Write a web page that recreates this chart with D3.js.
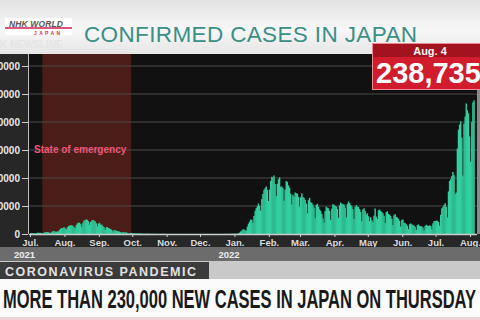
<!DOCTYPE html>
<html>
<head>
<meta charset="utf-8">
<script src="https://cdn.jsdelivr.net/npm/d3@7"></script>
<style>
  body { margin: 0; background: #111; overflow: hidden; }
  svg { display: block; font-family: "Liberation Sans", Arial, sans-serif; }
</style>
</head>
<body>
<script>
// daily new cases in Japan, in thousands, one array per month
var jul21 = [1.8,1.8,1.8,1.3,0.9,1.6,2.2,2.2,2.1,2.1,1.5,1.0,2.4,3.2,3.4,3.4,3.1,2.3,1.4,3.8,5.0,5.4,4.2,4.0,4.7,4.7,7.6,9.6,10.7,10.7,12.3];
var aug21 = [10.2,8.4,12.0,14.2,15.3,15.3,15.7,14.5,12.1,10.3,15.8,18.9,20.4,20.1,17.5,12.3,19.9,23.9,25.1,25.9,25.5,22.8,16.8,21.6,24.3,24.9,24.1,22.7,19.3,13.6,18.7];
var sep21 = [20.0,16.8,16.7,14.2,12.0,7.6,11.9,12.4,10.4,9.8,8.9,7.2,4.2,6.8,6.8,5.7,5.1,4.9,4.2,3.2,2.2,3.6,2.9,3.0,2.7,2.1,1.1,1.1,2.0,1.9];
var oct21 = [1.4,1.4,1.0,0.6,1.1,1.1,0.9,0.8,0.8,0.6,0.4,0.6,0.7,0.6,0.5,0.5,0.4,0.2,0.4,0.4,0.4,0.3,0.3,0.3,0.15,0.3,0.3,0.3,0.27,0.25,0.2];
var nov21 = [0.09,0.09,0.16,0.13,0.2,0.17,0.16,0.11,0.19,0.2,0.2,0.19,0.17,0.13,0.08,0.17,0.17,0.15,0.13,0.13,0.12,0.05,0.08,0.11,0.11,0.1,0.13,0.11,0.07,0.1];
var dec21 = [0.14,0.13,0.1,0.16,0.13,0.09,0.12,0.14,0.17,0.13,0.14,0.11,0.07,0.17,0.18,0.16,0.18,0.19,0.17,0.12,0.26,0.23,0.28,0.31,0.28,0.26,0.2,0.38,0.5,0.5,0.5];
var jan22 = [0.5,0.5,0.8,1.1,2.6,4.5,6.2,8.5,8.2,6.4,6.4,13.2,18.7,22.0,25.7,25.6,20.0,32.2,41.5,46.2,49.8,54.6,50.5,41.8,62.6,71.6,78.9,81.8,84.9,78.6,58.9];
var feb22 = [79.4,94.9,102.3,100.9,104.5,89.2,67.5,89.9,97.8,101.3,84.2,84.8,81.9,59.5,79.2,94.8,93.0,86.7,82.6,71.9,52.8,69.8,66.3,74.2,73.0,71.9,66.5,49.0];
var mar22 = [65.4,72.7,66.3,64.8,61.1,54.3,36.9,60.4,64.6,56.6,55.5,52.2,47.4,28.2,52.1,54.0,48.8,44.1,41.2,36.1,28.0,20.3,40.9,48.7,47.0,46.0,41.2,25.4,45.4,53.4,52.2];
var apr22 = [50.2,49.0,44.6,28.8,51.1,55.9,54.2,53.1,52.8,47.1,29.5,53.7,58.0,55.5,51.7,49.4,44.3,26.9,48.3,51.8,49.2,48.2,44.6,39.4,22.9,44.0,45.9,41.3,34.7,37.0];
var may22 = [31.6,22.6,30.0,24.6,21.0,32.9,45.5,31.0,26.8,42.3,43.8,40.9,39.5,37.3,32.5,19.6,39.0,40.6,35.9,34.5,32.4,27.4,16.0,33.5,35.6,30.6,29.4,27.3,23.2,13.1,25.6];
var jun22 = [25.6,20.1,19.4,17.6,14.6,8.5,17.5,19.0,17.4,15.8,15.2,12.9,7.2,15.8,17.0,14.6,14.0,13.4,11.8,6.9,14.2,16.3,15.0,14.4,15.5,14.4,8.3,19.0,23.1,23.4];
var jul22 = [23.6,23.8,21.6,14.8,34.4,45.8,47.9,51.9,54.9,48.3,29.4,76.0,94.5,97.8,103.3,110.7,105.2,71.1,74.1,152.5,186.2,195.1,200.9,172.0,104.3,197.1,209.7,233.1,221.1,215.4,174.4];
var aug22 = [129.0,200.0,235.0,238.7];

var startDate = new Date(2021, 6, 1);
var yTicks = [0, 50, 100, 150, 200, 250, 300];
var yTickLabels = ["0", "50000", "100000", "150000", "200000", "250000", "300000"];
var monthTicks = d3.timeMonth.range(new Date(2021, 6, 1), new Date(2022, 7, 2));
var monthLabels = ["Jul.", "Aug.", "Sep.", "Oct.", "Nov.", "Dec.", "Jan.", "Feb.", "Mar.", "Apr.", "May", "Jun.", "Jul.", "Aug."];
var years = [{year: "2021", date: new Date(2021, 6, 1)}, {year: "2022", date: new Date(2022, 0, 1)}];
var emergency = [new Date(2021, 6, 12), new Date(2021, 8, 30)];

var cases = [].concat(jul21, aug21, sep21, oct21, nov21, dec21, jan22, feb22, mar22, apr22, may22, jun22, jul22, aug22)
  .map(function (v, i) { return {date: d3.timeDay.offset(startDate, i), value: v}; });

var width = 480, height = 320;
var plot = {left: 29, right: 477, top: 54, bottom: 234};

var svg = d3.select("body").append("svg")
  .attr("width", width)
  .attr("height", height);

var defs = svg.append("defs");
var hg = defs.append("linearGradient").attr("id", "head").attr("x1", 0).attr("y1", 0).attr("x2", 0).attr("y2", 1);
hg.append("stop").attr("offset", "0%").attr("stop-color", "#e2e2e2");
hg.append("stop").attr("offset", "55%").attr("stop-color", "#f7f7f7");
hg.append("stop").attr("offset", "100%").attr("stop-color", "#e6e6e6");

// header
svg.append("rect").attr("x", 0).attr("y", 0).attr("width", width).attr("height", plot.top).attr("fill", "url(#head)");

// logo
svg.append("rect").attr("x", 5).attr("y", 18).attr("width", 67).attr("height", 17).attr("fill", "#fff");
svg.append("rect").attr("x", 5).attr("y", 27).attr("width", 67).attr("height", 2).attr("fill", "#e0557a");
svg.append("text").attr("x", 9).attr("y", 26.5).attr("font-size", 8.5).attr("font-weight", "bold")
  .attr("font-style", "italic").attr("fill", "#555").attr("textLength", 54).text("NHK WORLD");
svg.append("text").attr("x", 34).attr("y", 34.5).attr("font-size", 5).attr("font-weight", "bold")
  .attr("fill", "#d4304a").attr("textLength", 26).text("JAPAN");
svg.append("text").attr("x", 0).attr("y", 48).attr("font-size", 10).attr("font-weight", "bold")
  .attr("fill", "#e4e4e4").text("K NEWSLINE");

svg.append("text").attr("x", 84).attr("y", 42).attr("font-size", 22.5)
  .attr("fill", "#3a8f86").attr("textLength", 333).text("CONFIRMED CASES IN JAPAN");

// chart panels
svg.append("rect").attr("x", 0).attr("y", plot.top).attr("width", width).attr("height", 193).attr("fill", "#272727");
svg.append("rect").attr("x", plot.left).attr("y", plot.top).attr("width", plot.right - plot.left)
  .attr("height", plot.bottom - plot.top).attr("fill", "#111");
svg.append("rect").attr("x", plot.right).attr("y", plot.top).attr("width", 3)
  .attr("height", plot.bottom - plot.top).attr("fill", "#8a8a8a");

var x = d3.scaleTime()
  .domain([new Date(2021, 6, 1), new Date(2022, 7, 1)])
  .range([30, 470]);

var y = d3.scaleLinear()
  .domain([0, 300])
  .range([plot.bottom, 66]);

// state of emergency band
svg.append("rect")
  .attr("x", x(emergency[0])).attr("y", plot.top)
  .attr("width", x(emergency[1]) - x(emergency[0]))
  .attr("height", plot.bottom - plot.top)
  .attr("fill", "#4b1d18");

// gridlines
svg.append("g").selectAll("line")
  .data(yTicks.slice(1))
  .enter().append("line")
  .attr("x1", plot.left).attr("x2", plot.right)
  .attr("y1", function (d) { return y(d); })
  .attr("y2", function (d) { return y(d); })
  .attr("stroke", "#4a4a4a").attr("stroke-width", 1);

svg.append("text").attr("x", 34).attr("y", 153).attr("font-size", 10).attr("font-weight", "bold")
  .attr("fill", "#f0577a").text("State of emergency");

// bars
svg.append("g").selectAll("rect")
  .data(cases)
  .enter().append("rect")
  .attr("x", function (d) { return x(d.date); })
  .attr("width", function (d) { return x(d3.timeDay.offset(d.date, 1)) - x(d.date) + 0.3; })
  .attr("y", function (d) { return y(d.value); })
  .attr("height", function (d) { return y(0) - y(d.value); })
  .attr("fill", "#33cfa0");

// axes
var yAxis = svg.append("g")
  .attr("transform", "translate(" + (plot.left - 1) + ",0)")
  .call(d3.axisLeft(y).tickValues(yTicks).tickSize(6).tickPadding(2)
    .tickFormat(function (d, i) { return yTickLabels[i]; }));
yAxis.select(".domain").attr("stroke", "#bbb").attr("d", "M0.5," + plot.top + "V" + plot.bottom);
yAxis.selectAll(".tick line").attr("stroke", "#ccc");
yAxis.selectAll(".tick text").attr("fill", "#e6e6e6").attr("font-size", 10).attr("font-weight", "bold")
  .attr("font-family", "\"Liberation Sans\", Arial, sans-serif");

var xAxis = svg.append("g")
  .attr("transform", "translate(0," + plot.bottom + ")")
  .call(d3.axisBottom(x).tickValues(monthTicks).tickSize(3).tickPadding(2)
    .tickFormat(function (d, i) { return monthLabels[i]; }));
xAxis.select(".domain").attr("stroke", "#ccc").attr("stroke-width", 1.5)
  .attr("d", "M" + plot.left + ",0.5H" + plot.right);
xAxis.selectAll(".tick line").attr("stroke", "#ccc");
xAxis.selectAll(".tick text").attr("fill", "#dcdcdc").attr("font-size", 9.5).attr("font-weight", "bold")
  .attr("font-family", "\"Liberation Sans\", Arial, sans-serif");

// year band
svg.append("rect").attr("x", 0).attr("y", 247).attr("width", width).attr("height", 14).attr("fill", "#6c6c6c");
svg.append("g").selectAll("text")
  .data(years)
  .enter().append("text")
  .attr("x", function (d) { return x(d.date) - 16; })
  .attr("y", 258)
  .attr("font-size", 9.5).attr("font-weight", "bold").attr("fill", "#eee")
  .text(function (d) { return d.year; });

// callout
svg.append("rect").attr("x", 372.5).attr("y", 43.5).attr("width", 110).attr("height", 46)
  .attr("fill", "#d01c2c").attr("stroke", "#e88a92").attr("stroke-width", 1);
svg.append("rect").attr("x", 373).attr("y", 44).attr("width", 107).attr("height", 13).attr("fill", "#a3121f");
svg.append("text").attr("x", 430).attr("y", 54.5).attr("text-anchor", "middle").attr("font-size", 11)
  .attr("font-weight", "bold").attr("fill", "#f4f4f4").text("Aug. 4");
svg.append("text").attr("x", 376).attr("y", 83).attr("font-size", 29).attr("font-weight", "bold")
  .attr("fill", "#fff").text(d3.format(",")(238735));

// lower third
svg.append("rect").attr("x", 0).attr("y", 261).attr("width", width).attr("height", 18).attr("fill", "#c9c9c9");
svg.append("rect").attr("x", 0).attr("y", 262).attr("width", 209).attr("height", 17).attr("fill", "#3b3b3b");
svg.append("text").attr("x", 5).attr("y", 275.5).attr("font-size", 12.5).attr("font-weight", "bold")
  .attr("fill", "#e2e2e2").attr("textLength", 191).text("CORONAVIRUS PANDEMIC");
svg.append("rect").attr("x", 0).attr("y", 279).attr("width", width).attr("height", 41).attr("fill", "#fbfbfb");
svg.append("rect").attr("x", 0).attr("y", 317).attr("width", width).attr("height", 3).attr("fill", "#f3d2da");
svg.append("text").attr("x", 3).attr("y", 307.5).attr("font-size", 26).attr("font-weight", "bold")
  .attr("font-family", "\"Liberation Sans Narrow\", \"Liberation Sans\", Arial, sans-serif")
  .attr("fill", "#1a1a1a").attr("textLength", 473).attr("lengthAdjust", "spacingAndGlyphs")
  .text("MORE THAN 230,000 NEW CASES IN JAPAN ON THURSDAY");
</script>
</body>
</html>
